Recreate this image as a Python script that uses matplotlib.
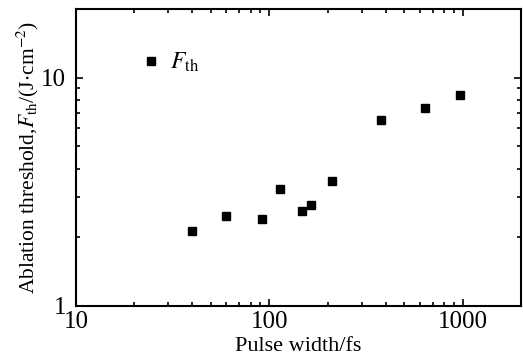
import numpy as np
import matplotlib.pyplot as plt
from matplotlib.ticker import LogLocator, NullFormatter, FixedLocator, FixedFormatter

plt.rcParams['font.family'] = ['Liberation Serif', 'DejaVu Serif']
plt.rcParams['mathtext.fontset'] = 'stix'

# pulse width (fs) and ablation threshold (J/cm^2)
pulse_width = [40, 60, 92, 114, 148, 165, 210, 380, 638, 973]
threshold = [2.13, 2.48, 2.41, 3.26, 2.60, 2.78, 3.51, 6.50, 7.34, 8.36]

fig = plt.figure(figsize=(5.23, 3.58), dpi=100)
ax = fig.add_axes([0.1453, 0.1453, 0.8507, 0.8297])

ax.plot(pulse_width, threshold, 's', color='black', markersize=6, linestyle='none',
        label=r'$F_{\mathrm{th}}$')

ax.set_xscale('log')
ax.set_yscale('log')
ax.set_xlim(10, 2000)
ax.set_ylim(1, 20)

ax.xaxis.set_major_locator(FixedLocator([10, 100, 1000]))
ax.xaxis.set_major_formatter(FixedFormatter(['10', '100', '1000']))
ax.xaxis.set_minor_locator(LogLocator(base=10, subs=np.arange(2, 10)))
ax.xaxis.set_minor_formatter(NullFormatter())
ax.yaxis.set_major_locator(FixedLocator([1, 10]))
ax.yaxis.set_major_formatter(FixedFormatter(['1', '10']))
ax.yaxis.set_minor_locator(LogLocator(base=10, subs=np.arange(2, 10)))
ax.yaxis.set_minor_formatter(NullFormatter())

ax.tick_params(which='both', direction='in', top=True, right=True, width=1.2)
ax.tick_params(which='major', length=5, labelsize=18)
ax.tick_params(which='minor', length=3)
ax.tick_params(axis='y', which='major', pad=7)
for s in ax.spines.values():
    s.set_linewidth(1.5)

ax.set_xlabel('Pulse width/fs', fontsize=16, labelpad=3)
ax.set_ylabel(r'Ablation threshold,$F_{\mathrm{th}}$/(J$\cdot$cm$^{-2}$)', fontsize=15.5, labelpad=0)

ax.legend(loc='upper left', bbox_to_anchor=(0.095, 0.93), frameon=False, fontsize=17,
          handletextpad=0.3, handlelength=1.0, markerscale=1.0)

fig.savefig('out.png', dpi=100)
